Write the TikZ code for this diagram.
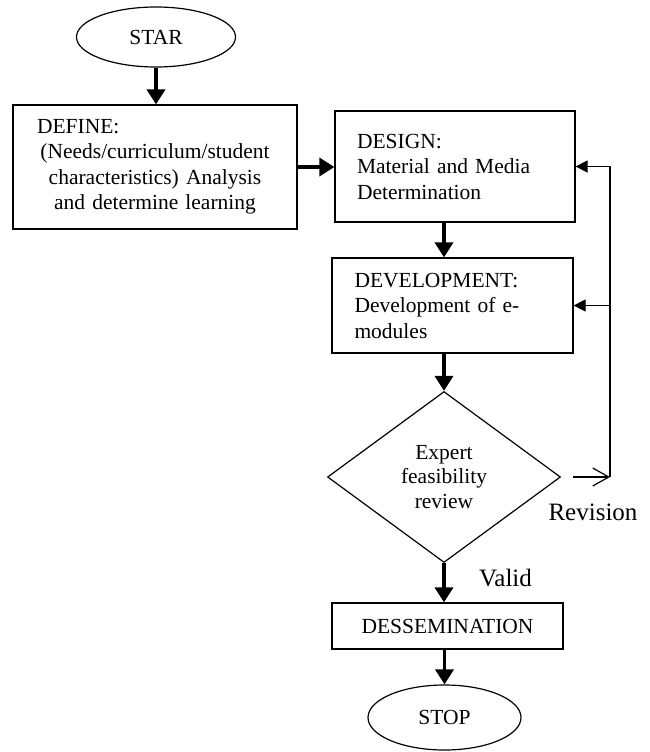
\documentclass[tikz,border=0pt]{standalone}
\usepackage{fontspec}
\setmainfont{Liberation Serif}
\usetikzlibrary{shapes.geometric,arrows.meta}
\begin{document}
\begin{tikzpicture}[x=1pt,y=-1pt,
  boxtext/.style={font=\fontsize{21.5}{25.5}\selectfont},
  procbox/.style={draw, line width=1.2pt, rectangle, inner sep=0pt, boxtext},
  termnode/.style={draw, line width=1.2pt, ellipse, inner sep=0pt, boxtext},
  decnode/.style={draw, line width=1.2pt, diamond, inner sep=0pt, align=center, font=\fontsize{21.5}{24.5}\selectfont},
  flow/.style={line width=3.5pt, -{Triangle[length=15pt,width=18pt]}},
  back/.style={line width=1.2pt, -{Triangle[length=12pt,width=12pt]}},
  revline/.style={line width=1.2pt, -{Straight Barb[length=16pt,width=18pt]}},
  lbl/.style={font=\fontsize{25}{30}\selectfont, inner sep=0pt}
]
\useasboundingbox (0,0) rectangle (650,752);

\node[termnode, minimum width=159pt, minimum height=60pt] (star) at (156,37) {STAR};
\node[procbox, minimum width=284pt, minimum height=124pt, align=center, text width=244pt] (define) at (155,167)
  {\makebox[244pt][l]{\hspace*{4pt}DEFINE:}\\(Needs/curriculum/student\\characteristics) Analysis\\and determine learning};
\node[procbox, minimum width=240pt, minimum height=111pt, align=left, text width=196pt] (design) at (455,166.5)
  {DESIGN:\\\makebox[196pt][s]{Material and Media}\\Determination};
\node[procbox, minimum width=241pt, minimum height=95pt, align=left, text width=196pt] (devel) at (452.5,305.5)
  {DEVELOPMENT:\\\makebox[174pt][s]{Development of e-}\\modules};
\node[decnode, minimum width=233pt, minimum height=171pt] (review) at (444,477) {Expert\\feasibility\\review};
\node[procbox, minimum width=231pt, minimum height=46pt] (dissem) at (447.5,626) {DESSEMINATION};
\node[termnode, minimum width=153pt, minimum height=65pt] (stop) at (444.5,717.5) {STOP};

\draw[flow] (star.south) -- (star.south |- define.north);
\draw[flow] (define.east) -- (define.east -| design.west);
\draw[flow] (review.north |- design.south) -- (review.north |- devel.north);
\draw[flow] (review.north |- devel.south) -- (review.north);
\draw[flow] (review.south) -- (review.south |- dissem.north);
\draw[flow] (stop.north |- dissem.south) -- (stop.north);

\coordinate (fb) at (610,477);
\draw[revline] ([xshift=12pt]review.east) -- (fb);
\draw[back] (fb) |- (design.east);
\draw[back] (fb |- devel.east) -- (devel.east);

\node[lbl] (revlabel) at (593,512) {Revision};
\node[lbl] (validlabel) at (505.5,578) {Valid};
\end{tikzpicture}
\end{document}
